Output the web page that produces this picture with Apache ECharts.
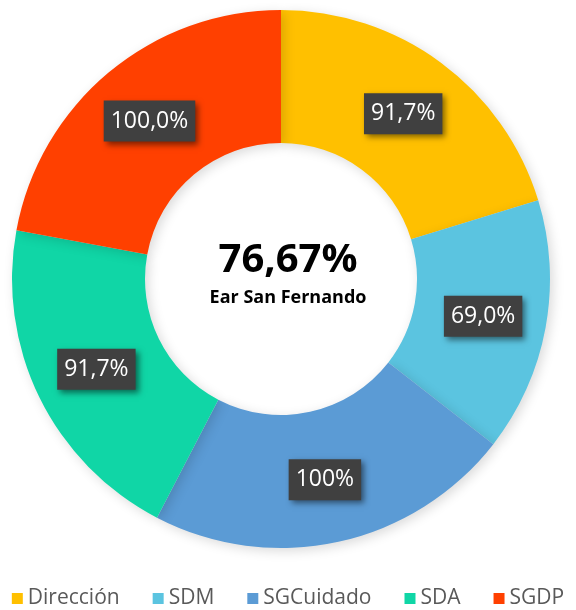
<!DOCTYPE html>
<html><head><meta charset="utf-8">
<script src="https://cdn.jsdelivr.net/npm/echarts@6/dist/echarts.min.js"></script>
<style>html,body{margin:0;padding:0;background:#fff}#c{width:576px;height:610px}</style>
</head><body><div id="c"></div>
<script>
const categories = ['Dirección', 'SDM', 'SGCuidado', 'SDA', 'SGDP'];
const values = [91.7, 69.0, 100, 91.7, 100.0];
const labels = ['91,7%', '69,0%', '100%', '91,7%', '100,0%'];
const colors = ['#FFC000', '#5BC4E0', '#5B9BD5', '#10D6A6', '#FF4000'];
const centerValue = '76,67%';
const centerName = 'Ear San Fernando';

const chart = echarts.init(document.getElementById('c'), null, {renderer: 'canvas'});
const font = '"Open Sans", "Noto Sans", sans-serif';
chart.setOption({
  animation: false,
  color: colors,
  title: {
    text: centerValue,
    subtext: centerName,
    left: 283, top: 236, textAlign: 'center',
    itemGap: 8,
    textStyle: {fontFamily: font, fontSize: 40, fontWeight: 'bold', color: '#000'},
    subtextStyle: {fontFamily: font, fontSize: 18, fontWeight: 'bold', color: '#000'}
  },
  legend: {
    top: 583, left: 'center',
    itemWidth: 11, itemHeight: 11, itemGap: 33,
    icon: 'rect',
    textStyle: {fontFamily: font, fontSize: 21, color: '#595959'},
    data: categories
  },
  series: [{
    type: 'pie',
    center: [281, 279],
    radius: [136, 269],
    startAngle: 90,
    clockwise: true,
    itemStyle: {shadowBlur: 12, shadowColor: 'rgba(0,0,0,0.15)', shadowOffsetX: 3, shadowOffsetY: 3},
    label: {
      show: true, position: 'inside',
      formatter: p => labels[p.dataIndex],
      fontFamily: font, fontSize: 23, color: '#fff',
      backgroundColor: '#404040', padding: [10, 7, 8, 7],
      shadowBlur: 6, shadowColor: 'rgba(0,0,0,0.5)', shadowOffsetX: 3, shadowOffsetY: 3
    },
    labelLine: {show: false},
    emphasis: {disabled: true},
    data: categories.map((n, i) => ({name: n, value: values[i]}))
  }]
});
</script></body></html>
